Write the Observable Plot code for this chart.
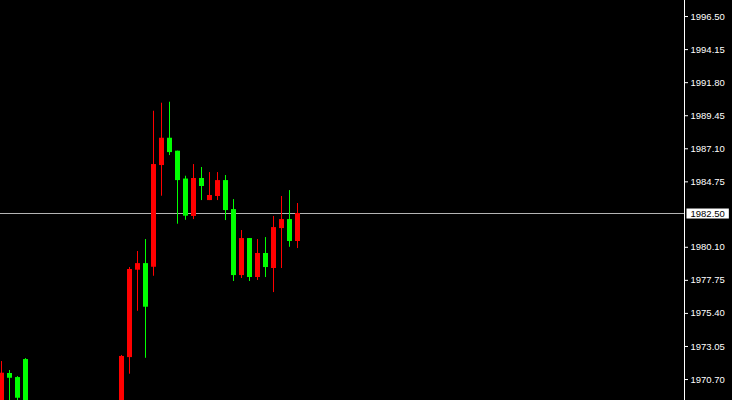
<!DOCTYPE html>
<html>
<head>
<meta charset="utf-8">
<script src="https://cdn.jsdelivr.net/npm/d3@7"></script>
<script src="https://cdn.jsdelivr.net/npm/@observablehq/plot@0.6"></script>
<style>
  html, body { margin: 0; padding: 0; background: #000; }
  #chart svg { display: block; }
</style>
</head>
<body>
<div id="chart"></div>
<script>
// Candle slot index (bar number from the left edge); bars 4–14 lie below the visible range
const candleIndex = [0, 1, 2, 3, 15, 16, 17, 18, 19, 20, 21, 22, 23, 24, 25, 26, 27, 28, 29, 30, 31, 32, 33, 34, 35, 36, 37];
const opens  = [1971.15, 1970.79, 1969.37, 1968.90, 1972.34, 1978.52, 1978.94, 1975.84, 1985.98, 1987.85, 1986.83, 1984.84, 1982.31, 1984.99, 1984.42, 1983.78, 1984.84, 1982.71, 1978.09, 1980.72, 1977.95, 1979.66, 1978.66, 1981.50, 1982.07, 1980.51, 1982.50];
const highs  = [1971.98, 1971.34, 1970.91, 1972.19, 1972.41, 1978.66, 1979.80, 1980.65, 1989.77, 1990.34, 1990.41, 1986.93, 1985.15, 1985.98, 1985.77, 1985.41, 1985.41, 1985.20, 1983.49, 1981.29, 1980.72, 1980.65, 1980.79, 1982.29, 1983.71, 1984.13, 1983.21];
const lows   = [1968.60, 1968.80, 1968.90, 1968.70, 1968.50, 1971.08, 1975.55, 1972.21, 1978.04, 1983.73, 1986.62, 1981.74, 1982.02, 1982.07, 1983.42, 1983.42, 1983.42, 1982.00, 1977.67, 1977.88, 1977.67, 1977.74, 1977.95, 1976.88, 1978.59, 1980.10, 1980.01];
const closes = [1968.90, 1971.13, 1970.84, 1972.12, 1968.80, 1972.26, 1978.47, 1978.94, 1978.68, 1985.91, 1987.85, 1986.93, 1984.95, 1982.29, 1984.99, 1983.42, 1983.71, 1984.84, 1982.78, 1978.09, 1980.72, 1977.95, 1979.66, 1978.59, 1981.43, 1982.07, 1980.51];

const tickValues = [1996.50, 1994.15, 1991.80, 1989.45, 1987.10, 1984.75, 1980.10, 1977.75, 1975.40, 1973.05, 1970.70];
const currentPrice = 1982.50;

const upColor = "#00ff00";
const downColor = "#ff0000";

const candles = candleIndex.map((k, i) => ({
  k, open: opens[i], high: highs[i], low: lows[i], close: closes[i]
}));
const candleColor = d => (d.close >= d.open ? upColor : downColor);

const plot = Plot.plot({
  width: 732,
  height: 400,
  marginLeft: 0,
  marginRight: 48,
  marginTop: 0,
  marginBottom: 0,
  style: {
    background: "#000",
    color: "#fff",
    fontFamily: "'Liberation Sans', Arial, sans-serif",
    fontSize: "9.5px"
  },
  x: { domain: [-0.125, 85.375], axis: null },
  y: { domain: [1969.21, 1997.64], axis: null },
  marks: [
    Plot.ruleY([currentPrice], { stroke: "#b4b4b4", strokeWidth: 1 }),
    Plot.ruleX(candles, { x: "k", y1: "low", y2: "high", stroke: candleColor, strokeWidth: 1 }),
    Plot.ruleX(candles, { x: "k", y1: "open", y2: "close", stroke: candleColor, strokeWidth: 5 }),
    Plot.axisY({
      anchor: "right",
      ticks: tickValues,
      tickFormat: d => d.toFixed(2),
      tickSize: 3,
      tickPadding: 3,
      stroke: "#fff",
      fill: "#fff",
      label: null
    }),
    Plot.frame({ anchor: "right", stroke: "#fff" }),
    Plot.text([currentPrice], {
      y: d => d,
      frameAnchor: "right",
      dx: 6,
      text: d => d.toFixed(2),
      textAnchor: "start",
      fill: "#000",
      className: "price-label"
    })
  ]
});

document.getElementById("chart").appendChild(plot);

// White box behind the current-price label, placed in the SVG's own coordinates
const labelGroup = plot.querySelector("g.price-label");
const labelNode = labelGroup && labelGroup.querySelector("text");
if (labelNode) {
  const svgBox = plot.getBoundingClientRect();
  const tBox = labelNode.getBoundingClientRect();
  const yPos = plot.scale("y").apply(currentPrice) + 0.5;
  const rect = document.createElementNS("http://www.w3.org/2000/svg", "rect");
  rect.setAttribute("x", tBox.left - svgBox.left - 4);
  rect.setAttribute("width", tBox.width + 8);
  rect.setAttribute("y", yPos - 5);
  rect.setAttribute("height", 10);
  rect.setAttribute("fill", "#ffffff");
  labelGroup.parentNode.insertBefore(rect, labelGroup);
  labelNode.setAttribute("fill", "#000000");
}
</script>
</body>
</html>
